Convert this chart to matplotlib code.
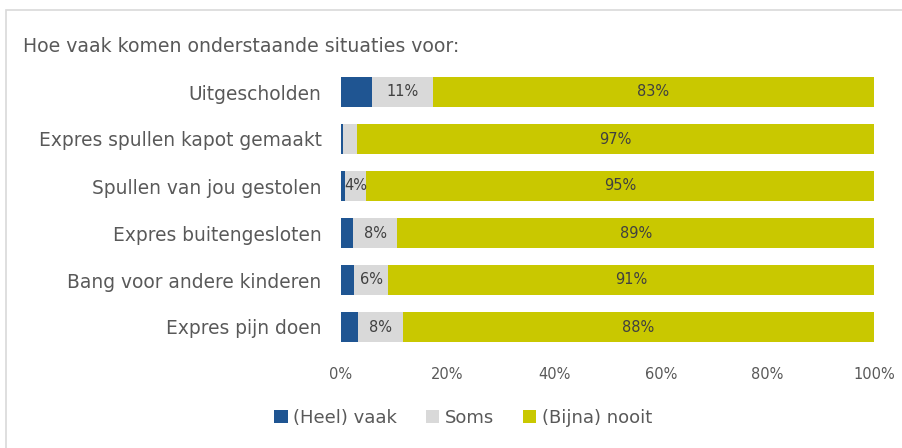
import numpy as np
import matplotlib.pyplot as plt
from matplotlib.patches import Rectangle

# Data (aandelen in %)
categorieen = ["Uitgescholden", "Expres spullen kapot gemaakt", "Spullen van jou gestolen",
               "Expres buitengesloten", "Bang voor andere kinderen", "Expres pijn doen"]
heel_vaak = [5.8, 0.3, 0.8, 2.2, 2.5, 3.2]
soms = [11.4, 2.7, 3.9, 8.4, 6.4, 8.4]
bijna_nooit = [82.8, 97.0, 95.3, 89.4, 91.1, 88.4]
reeksen = ["(Heel) vaak", "Soms", "(Bijna) nooit"]
kleuren = ["#1F5592", "#D9D9D9", "#C9C800"]

plt.rcParams['font.family'] = ['DejaVu Sans']
tekst = "#404040"
grijs = "#595959"

fig = plt.figure(figsize=(9.02, 4.48), dpi=100)
ax = fig.add_axes([341/902, 97.5/448, 533/902, 282/448])

y = np.arange(len(categorieen))
links = np.zeros(len(categorieen))
for waarden, naam, kleur in zip([heel_vaak, soms, bijna_nooit], reeksen, kleuren):
    waarden = np.array(waarden)
    ax.barh(y, waarden, left=links, height=0.62, color=kleur, label=naam)
    # labels alleen voor soms/nooit en als segment groot genoeg is
    if naam != reeksen[0]:
        for yi, l, w in zip(y, links, waarden):
            if w >= 3.5:
                ax.text(l + w / 2, yi, f"{w:.0f}%", ha="center", va="center",
                        fontsize=10.5, color=tekst)
    links += waarden

ax.set_xlim(0, 100)
ax.set_ylim(len(categorieen) - 0.5, -0.5)
ax.set_yticks(y)
ax.set_yticklabels(categorieen, fontsize=13.4, color=grijs)
ax.set_xticks(np.arange(0, 101, 20))
ax.set_xticklabels([f"{v}%" for v in range(0, 101, 20)], fontsize=10.5, color=grijs)
ax.tick_params(axis="y", length=0, pad=14)
ax.tick_params(axis="x", length=0, pad=12)
for s in ax.spines.values():
    s.set_visible(False)

fig.text(23/902, 1 - 47/448, "Hoe vaak komen onderstaande situaties voor:",
         fontsize=13.6, color=grijs, va="center", ha="left")

# afgesneden titel bovenaan (in het origineel valt die grotendeels buiten beeld)
fig.text(0.53, 1 + 5/448, "Ervaringen van jongeren op school in het afgelopen jaar",
         fontsize=15, fontweight="bold", color="black", ha="center", va="baseline")

# kader rond de grafiek
fig.patches.append(Rectangle((6/902, -0.1), 1.0, 1 - 10.5/448 + 0.1, transform=fig.transFigure,
                             fill=False, edgecolor="#D9D9D9", linewidth=1.2))

fig.legend(loc="center", bbox_to_anchor=(463/902, 1 - 418/448), ncol=3, frameon=False,
           fontsize=13, handlelength=0.75, handleheight=0.75, handletextpad=0.3,
           columnspacing=1.6, labelcolor=grijs)

plt.savefig("out.png", dpi=100)
